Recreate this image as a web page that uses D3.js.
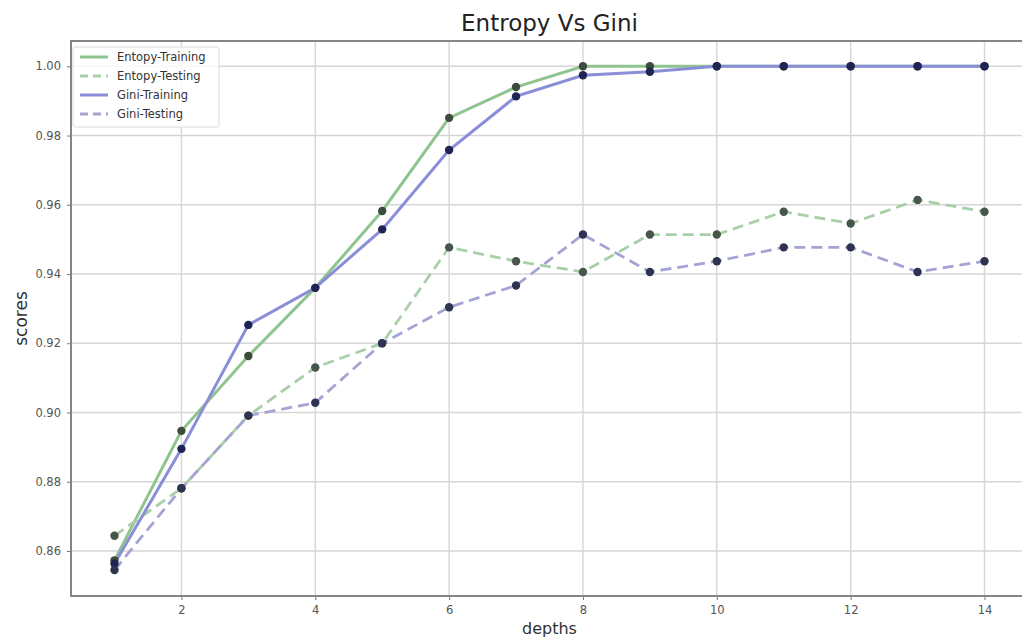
<!DOCTYPE html>
<html>
<head>
<meta charset="utf-8">
<script src="https://cdn.jsdelivr.net/npm/d3@7"></script>
<style>
    body { margin: 0; background: #fff; }
    #chart { width: 1022px; height: 637px; overflow: hidden; }
    text { font-family: "DejaVu Sans", sans-serif; }
</style>
</head>
<body>
<div id="chart"></div>
<script>
// data
const depths = [1, 2, 3, 4, 5, 6, 7, 8, 9, 10, 11, 12, 13, 14];
const entropyTrain = [0.8573, 0.8947, 0.9163, 0.9360, 0.9582, 0.9851, 0.9940, 1.0, 1.0, 1.0, 1.0, 1.0, 1.0, 1.0];
const entropyTest = [0.8644, 0.8781, 0.8991, 0.9130, 0.9200, 0.9477, 0.9437, 0.9406, 0.9514, 0.9514, 0.9580, 0.9546, 0.9614, 0.9580];
const giniTrain = [0.8563, 0.8895, 0.9253, 0.9360, 0.9529, 0.9758, 0.9913, 0.9974, 0.9984, 1.0, 1.0, 1.0, 1.0, 1.0];
const giniTest = [0.8545, 0.8781, 0.8991, 0.9028, 0.9200, 0.9304, 0.9367, 0.9514, 0.9406, 0.9437, 0.9477, 0.9477, 0.9406, 0.9437];
const xTicks = [2, 4, 6, 8, 10, 12, 14];
const yTicks = [0.86, 0.88, 0.90, 0.92, 0.94, 0.96, 0.98, 1.00];

const series = [
    { name: "Entopy-Training", values: entropyTrain, color: "#8fc48f", marker: "#3b4b3d", dash: null, width: 3 },
    { name: "Entopy-Testing", values: entropyTest, color: "#a9cfa9", marker: "#47564a", dash: "11,6", width: 2.8 },
    { name: "Gini-Training", values: giniTrain, color: "#8a8ed8", marker: "#1f2552", dash: null, width: 3 },
    { name: "Gini-Testing", values: giniTest, color: "#a3a4d4", marker: "#2f3352", dash: "11,6", width: 2.8 }
];

// plot area
const margin = { top: 41, right: -6, bottom: 41, left: 71 };
const width = 1022 - margin.left - margin.right;
const height = 637 - margin.top - margin.bottom;

const svg = d3.select("#chart")
    .append("svg")
    .attr("width", 1022)
    .attr("height", 637);

const g = svg.append("g")
    .attr("transform", `translate(${margin.left},${margin.top})`);

// scales, with matplotlib-like 5% padding
const xScale = d3.scaleLinear().domain([0.35, 14.65]).range([0, width]);
const yScale = d3.scaleLinear().domain([0.8470, 1.0073]).range([height, 0]);

// grid
g.append("g")
    .selectAll("line.vgrid")
    .data(xTicks)
    .join("line")
    .attr("x1", d => xScale(d)).attr("x2", d => xScale(d))
    .attr("y1", 0).attr("y2", height)
    .attr("stroke", "#d6d6d6").attr("stroke-width", 1.4);

g.append("g")
    .selectAll("line.hgrid")
    .data(yTicks)
    .join("line")
    .attr("x1", 0).attr("x2", width)
    .attr("y1", d => yScale(d)).attr("y2", d => yScale(d))
    .attr("stroke", "#d6d6d6").attr("stroke-width", 1.4);

// axes
const xAxis = d3.axisBottom(xScale).tickValues(xTicks).tickFormat(d3.format("d")).tickSize(4).tickPadding(6);
const yAxis = d3.axisLeft(yScale).tickValues(yTicks).tickFormat(d3.format(".2f")).tickSize(4).tickPadding(6);

g.append("g")
    .attr("class", "x-axis")
    .attr("transform", `translate(0,${height})`)
    .call(xAxis);

g.append("g")
    .attr("class", "y-axis")
    .call(yAxis);

g.selectAll(".x-axis .domain, .y-axis .domain").remove();
g.selectAll(".tick line").attr("stroke", "#777");
g.selectAll(".tick text").attr("fill", "#555").attr("font-size", "11.5px");

// frame
g.append("rect")
    .attr("width", width).attr("height", height)
    .attr("fill", "none")
    .attr("stroke", "#858585")
    .attr("stroke-width", 2);

// lines
const line = d3.line()
    .x((d, i) => xScale(depths[i]))
    .y(d => yScale(d));

series.forEach(s => {
    g.append("path")
        .datum(s.values)
        .attr("fill", "none")
        .attr("stroke", s.color)
        .attr("stroke-width", s.width)
        .attr("stroke-dasharray", s.dash)
        .attr("d", line);
});

series.forEach(s => {
    g.append("g")
        .selectAll("circle")
        .data(s.values)
        .join("circle")
        .attr("cx", (d, i) => xScale(depths[i]))
        .attr("cy", d => yScale(d))
        .attr("r", 4.2)
        .attr("fill", s.marker);
});

// legend
const legend = g.append("g").attr("transform", "translate(2,6)");
legend.append("rect")
    .attr("width", 146).attr("height", 80)
    .attr("rx", 2)
    .attr("fill", "#fff").attr("fill-opacity", 0.85)
    .attr("stroke", "#dcdcdc");

series.forEach((s, i) => {
    const y = 10 + i * 19;
    legend.append("line")
        .attr("x1", 7).attr("x2", 35)
        .attr("y1", y).attr("y2", y)
        .attr("stroke", s.color)
        .attr("stroke-width", s.width)
        .attr("stroke-dasharray", s.dash ? "8,5" : null);
    legend.append("text")
        .attr("x", 44).attr("y", y + 4)
        .attr("font-size", "11.5px")
        .attr("fill", "#333")
        .text(s.name);
});

// title and axis labels
svg.append("text")
    .attr("x", margin.left + width / 2)
    .attr("y", 31)
    .attr("text-anchor", "middle")
    .attr("font-size", "23px")
    .attr("fill", "#222")
    .text("Entropy Vs Gini");

svg.append("text")
    .attr("x", margin.left + width / 2)
    .attr("y", 634)
    .attr("text-anchor", "middle")
    .attr("font-size", "16px")
    .attr("fill", "#333")
    .text("depths");

svg.append("text")
    .attr("transform", "rotate(-90)")
    .attr("x", -(margin.top + height / 2))
    .attr("y", 27)
    .attr("text-anchor", "middle")
    .attr("font-size", "17px")
    .attr("fill", "#333")
    .text("scores");
</script>
</body>
</html>
